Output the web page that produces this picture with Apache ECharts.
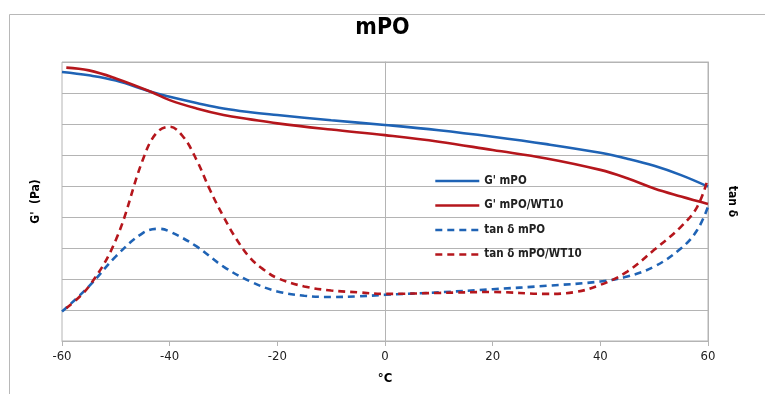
<!DOCTYPE html>
<html><head><meta charset="utf-8">
<script src="https://cdn.jsdelivr.net/npm/echarts@6/dist/echarts.min.js"></script>
<style>html,body{margin:0;padding:0;background:#fff}#c{width:765px;height:394px}</style>
</head><body><div id="c"></div>
<script>
const titleText = "mPO";
const xName = "°C";
const leftName = "G'  (Pa)";
const rightName = "tan δ";
const xTicks = [-60, -40, -20, 0, 20, 40, 60];
const seriesNames = ["G' mPO", "G' mPO/WT10", "tan δ mPO", "tan δ mPO/WT10"];

const gMPO = [[-60,8.68],[-55,8.57],[-50,8.40],[-43.5,8.04],[-40,7.88],[-35,7.68],[-30,7.50],[-25,7.38],[-20,7.29],[-10,7.12],[0,6.97],[10,6.80],[20,6.59],[30,6.35],[40,6.07],[45,5.88],[50,5.65],[55,5.35],[60,4.98]];
const gWT10 = [[-59.2,8.82],[-55,8.73],[-50,8.47],[-43.5,8.04],[-40,7.77],[-35,7.50],[-30,7.29],[-25,7.15],[-20,7.02],[-10,6.82],[0,6.64],[10,6.43],[20,6.16],[30,5.89],[40,5.52],[45,5.25],[50,4.92],[55,4.66],[60,4.42]];
const tanMPO = [[-60,0.95],[-55,1.76],[-50,2.73],[-45,3.48],[-42,3.62],[-40,3.53],[-35,3.05],[-30,2.40],[-25,1.92],[-20,1.60],[-15,1.46],[-10,1.42],[-5,1.44],[0,1.49],[10,1.57],[20,1.67],[30,1.78],[40,1.92],[45,2.08],[50,2.40],[55,2.99],[58,3.58],[60,4.33]];
const tanWT10 = [[-59.2,1.06],[-55,1.76],[-50,3.26],[-45,5.84],[-42.5,6.70],[-40,6.91],[-37.5,6.59],[-35,5.84],[-32.5,4.87],[-30,4.01],[-27.5,3.26],[-25,2.67],[-22.5,2.30],[-20,2.03],[-15,1.76],[-10,1.63],[-5,1.57],[0,1.52],[10,1.55],[20,1.58],[30,1.52],[35,1.57],[40,1.81],[45,2.24],[50,2.94],[55,3.69],[58,4.33],[60,5.25]];

const BLUE = '#1f63b5';
const RED = '#b5161c';
const GRID = '#b4b4b4';
const FONT = '"DejaVu Sans Condensed", "Liberation Sans", sans-serif';

const chart = echarts.init(document.getElementById('c'));
function mk(name, data, color, dashed, yIdx) {
  return {
    name: name, type: 'line', data: data, smooth: 0.4, showSymbol: false, symbol: 'none',
    yAxisIndex: yIdx,
    lineStyle: { color: color, width: 2.6, type: dashed ? [7, 5] : 'solid' },
    itemStyle: { color: color }
  };
}
chart.setOption({
  animation: false,
  backgroundColor: '#fff',
  graphic: [{ type: 'rect', shape: { x: 9.5, y: 14.5, width: 800, height: 400 }, style: { fill: 'none', stroke: '#b8b8b8', lineWidth: 1 }, silent: true }],
  title: { text: titleText, left: 'center', top: 12, textStyle: { fontFamily: FONT, fontWeight: 'bold', fontSize: 23, color: '#000' } },
  grid: { left: 62, right: 57, top: 62, bottom: 53, show: true, borderColor: GRID, borderWidth: 1 },
  legend: {
    data: seriesNames,
    orient: 'vertical', left: 429, top: 170, itemWidth: 44, itemHeight: 12, itemGap: 12.5,
    itemStyle: { opacity: 0 },
    lineStyle: { width: 2.6 },
    textStyle: { fontFamily: FONT, fontSize: 11.5, fontWeight: 'bold', color: '#222' }
  },
  xAxis: {
    type: 'value', min: -60, max: 60, interval: 20,
    name: xName, nameLocation: 'middle', nameGap: 31,
    nameTextStyle: { fontFamily: FONT, fontSize: 13, fontWeight: 'bold', color: '#000' },
    axisLine: { show: true, lineStyle: { color: GRID } },
    axisTick: { show: true, length: 5, lineStyle: { color: GRID } },
    axisLabel: { fontFamily: FONT, fontSize: 13, color: '#222', margin: 9 },
    splitLine: { show: false }
  },
  yAxis: [{
    type: 'value', min: 0, max: 9, interval: 1, position: 'left',
    name: leftName, nameLocation: 'middle', nameGap: 20, nameRotate: 90,
    nameTextStyle: { fontFamily: FONT, fontSize: 12, fontWeight: 'bold', color: '#000' },
    axisLine: { show: true, lineStyle: { color: GRID } }, axisTick: { show: false }, axisLabel: { show: false },
    splitLine: { show: true, lineStyle: { color: GRID, width: 1 } }
  }, {
    type: 'value', min: 0, max: 9, interval: 1, position: 'right',
    name: rightName, nameLocation: 'middle', nameGap: 18, nameRotate: -90,
    nameTextStyle: { fontFamily: FONT, fontSize: 12, fontWeight: 'bold', color: '#000' },
    axisLine: { show: true, lineStyle: { color: GRID } }, axisTick: { show: false }, axisLabel: { show: false },
    splitLine: { show: false }
  }],
  series: [
    mk(seriesNames[0], gMPO, BLUE, false, 0),
    mk(seriesNames[1], gWT10, RED, false, 0),
    mk(seriesNames[2], tanMPO, BLUE, true, 1),
    mk(seriesNames[3], tanWT10, RED, true, 1)
  ]
});
</script></body></html>
